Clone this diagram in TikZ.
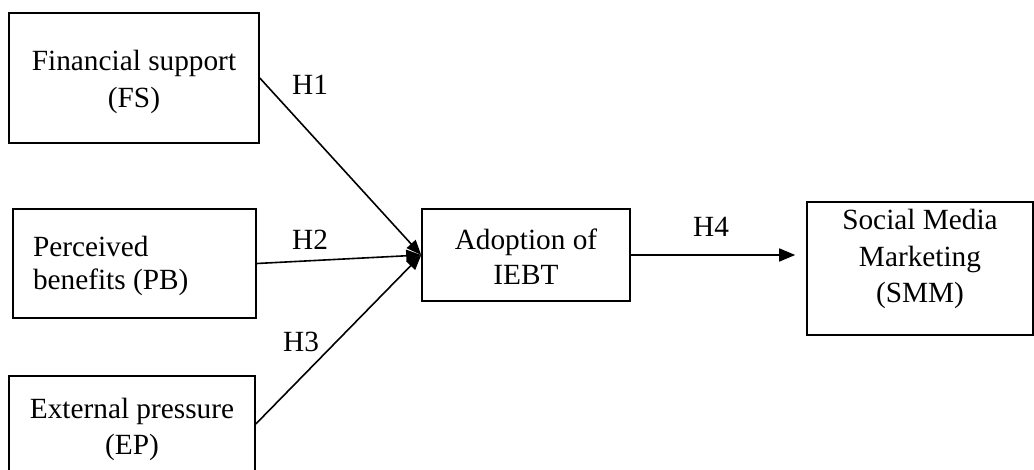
\documentclass[tikz,border=0pt]{standalone}
\usepackage{fontspec}
\setmainfont{Liberation Serif}
\usetikzlibrary{arrows.meta}
\begin{document}
\begin{tikzpicture}[x=1pt,y=-1pt,
  box/.style={draw, line width=1.6pt, inner sep=0pt, align=center, font=\fontsize{29.3}{37}\selectfont},
  hyp/.style={font=\fontsize{29.3}{37}\selectfont, inner sep=0pt, anchor=base west},
  conn/.style={line width=1.6pt, -{Triangle[length=15pt,width=12pt]}},
  connb/.style={line width=1.6pt, -{Triangle[length=16pt,width=13pt]}, shorten >=11pt}]
\useasboundingbox (0,0) rectangle (1034,470);
\clip (0,0) rectangle (1034,470);
\node[box, minimum width=250pt, minimum height=130pt, text height=68pt, text depth=8pt] (fs) at (134,78) {Financial support\\(FS)};
\node[box, text width=203pt, align=flush left, inner xsep=20pt, minimum height=109pt, text height=28pt, text depth=41pt, font=\fontsize{29.3}{33}\selectfont] (pb) at (134.5,263.5) {Perceived\\benefits (PB)};
\node[box, minimum width=246pt, minimum height=96pt, text height=68pt, text depth=8pt, font=\fontsize{29.3}{36}\selectfont] (ep) at (132,424) {External pressure\\(EP)};
\node[box, minimum width=208pt, minimum height=92pt, text height=68pt, text depth=8pt, font=\fontsize{29.3}{35}\selectfont] (ad) at (526,255) {Adoption of\\IEBT};
\node[box, minimum width=226pt, minimum height=133pt, text height=77pt, text depth=8pt, font=\fontsize{29.3}{36.5}\selectfont] (sm) at (920,268.5) {Social Media\\Marketing\\(SMM)};
\node[hyp] (h1) at (292,95) {H1};
\node[hyp] (h2) at (292,250) {H2};
\node[hyp] (h3) at (283,352) {H3};
\node[hyp] (h4) at (693,237) {H4};
\draw[conn] (fs.east) -- (ad.west);
\draw[conn] (pb.east) -- (ad.west);
\draw[conn] (ep.east) -- (ad.west);
\draw[connb] (ad.east) -- (ad.east -| sm.west);
\end{tikzpicture}
\end{document}
